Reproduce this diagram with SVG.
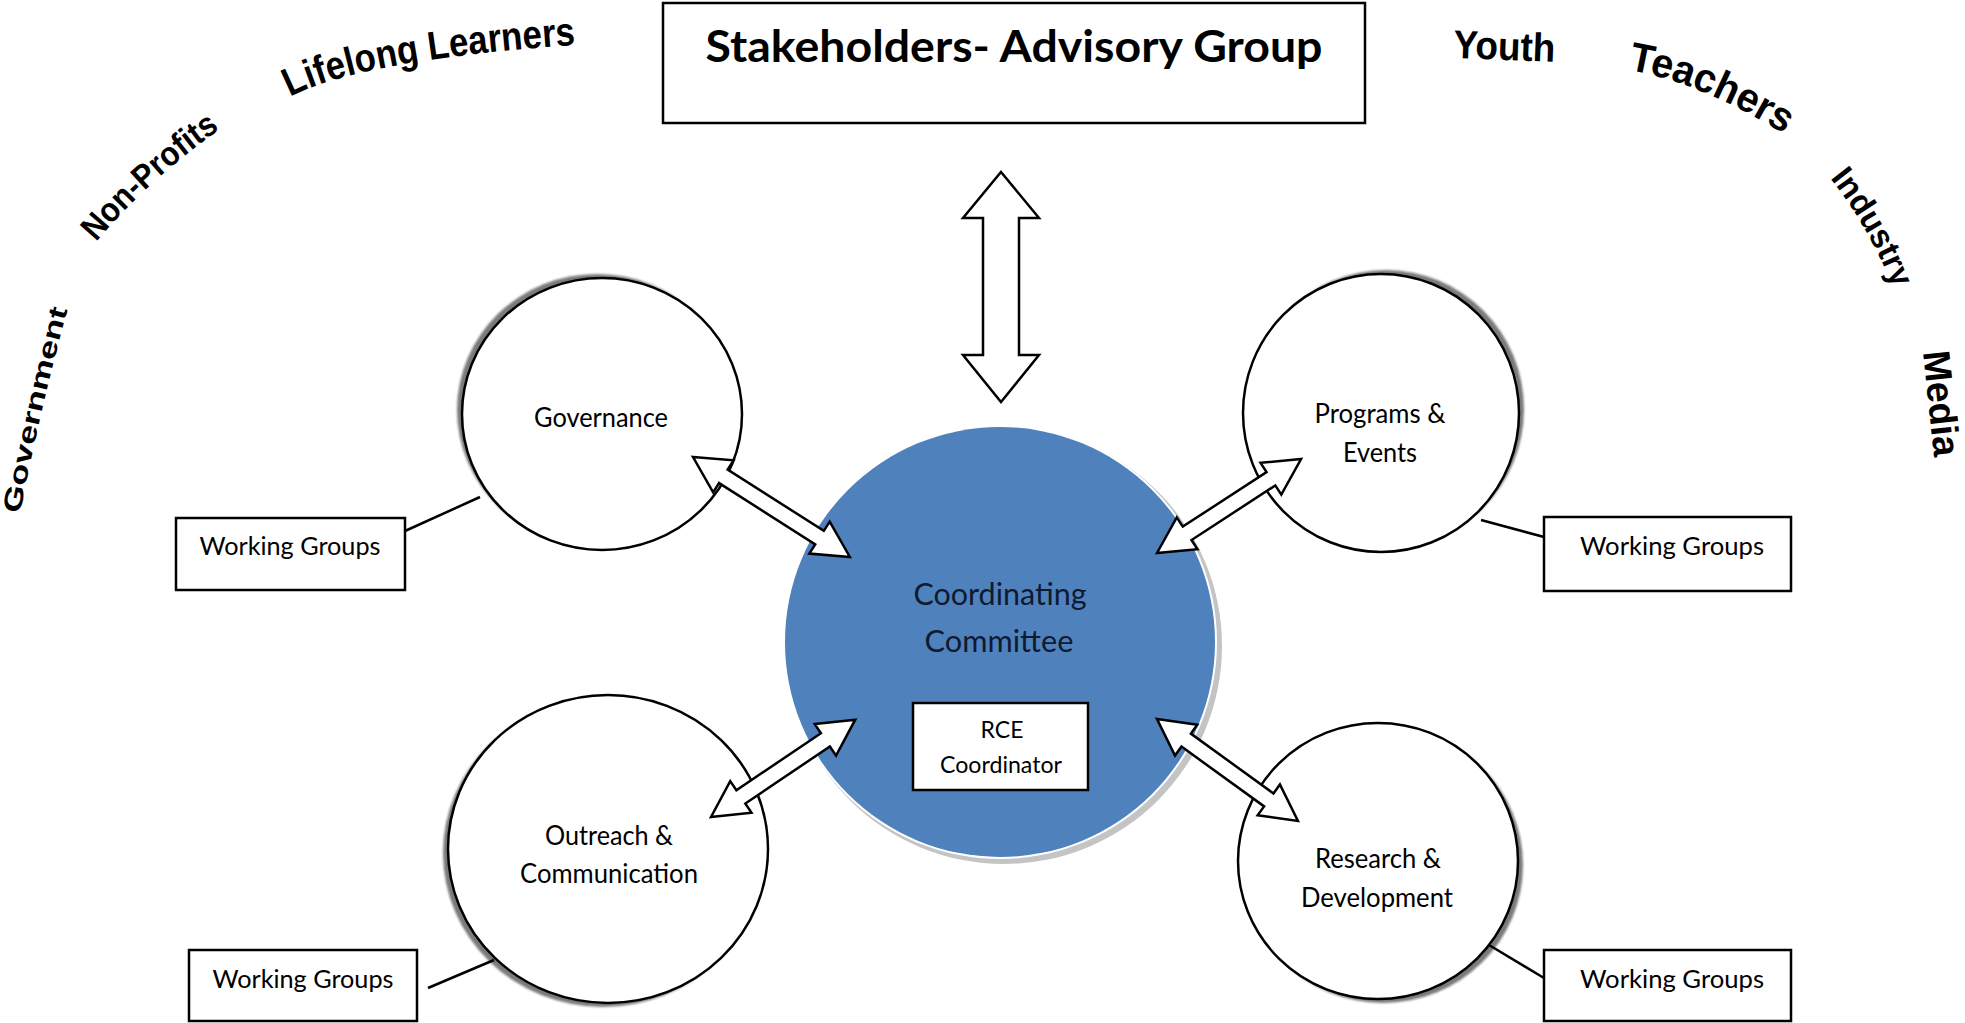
<svg xmlns="http://www.w3.org/2000/svg" width="1965" height="1023" viewBox="0 0 1965 1023">
<style>
.node{fill:#fff;stroke:#000;stroke-width:2.5}
.shadow{fill:#7a7a7a;filter:url(#blur)}
.box{fill:#fff;stroke:#000;stroke-width:2.5}
.lbl{font-family:Lato,"Open Sans",sans-serif;font-size:26px;fill:#000;text-anchor:middle}
.title{font-size:43px;font-weight:bold}
.cc{font-size:30px;fill:#0f1a30}
.rce{font-size:23px}
.wg{font-size:25px}
.wa{font-family:"Liberation Sans",Arial,sans-serif;font-weight:bold;fill:#000}
.arrow{fill:#fff;stroke:#000;stroke-width:2.5;stroke-linejoin:miter}
.link{stroke:#000;stroke-width:2.5;fill:none}
</style>
<defs>
<filter id="blur" x="-10%" y="-10%" width="120%" height="120%"><feGaussianBlur stdDeviation="1.2"/></filter>
<path id="pLL" d="M290,97 C328,76 420,55 576,45"/>
<path id="pNP" d="M96,242 Q150,178 222,128"/>
<path id="pGov" d="M20,514 Q40,410 68,308"/>
<path id="pT" d="M1628,70 Q1700,82 1784,134"/>
<path id="pInd" d="M1830,178 Q1868,226 1893,287"/>
</defs>
<rect width="1965" height="1023" fill="#fff"/>

<g id="stakeholder-labels">
<text class="wa" font-size="26"><textPath href="#pGov" textLength="210" lengthAdjust="spacingAndGlyphs">Government</textPath></text>
<text class="wa" font-size="34"><textPath href="#pNP" textLength="168" lengthAdjust="spacingAndGlyphs">Non-Profits</textPath></text>
<text class="wa" font-size="40"><textPath href="#pLL" textLength="292" lengthAdjust="spacingAndGlyphs">Lifelong Learners</textPath></text>
<text class="wa" font-size="40" transform="translate(1453,58) rotate(2.2)" textLength="102" lengthAdjust="spacingAndGlyphs">Youth</text>
<text class="wa" font-size="41"><textPath href="#pT" textLength="170" lengthAdjust="spacingAndGlyphs">Teachers</textPath></text>
<text class="wa" font-size="33"><textPath href="#pInd" textLength="128" lengthAdjust="spacingAndGlyphs">Industry</textPath></text>
<text class="wa" font-size="38" transform="translate(1923,352) rotate(84)" textLength="106" lengthAdjust="spacingAndGlyphs">Media</text>
</g>

<g id="stakeholders">
<rect class="box" x="663" y="3" width="702" height="120" stroke-width="3"/>
<text class="lbl title" x="1014" y="62" textLength="617" lengthAdjust="spacingAndGlyphs">Stakeholders- Advisory Group</text>
</g>

<g id="coordinating">
<circle cx="1004" cy="646" r="218" fill="#c4c4c4"/>
<circle cx="1000" cy="642" r="217" fill="#fff"/>
<circle cx="1000" cy="642" r="215" fill="#4f81bd"/>
<text class="lbl cc" x="1000" y="605" textLength="173" lengthAdjust="spacingAndGlyphs">Coordinating</text>
<text class="lbl cc" x="999" y="652" textLength="149" lengthAdjust="spacingAndGlyphs">Committee</text>
</g>

<g id="rce-coordinator">
<rect class="box" x="913" y="703" width="175" height="87"/>
<text class="lbl rce" x="1002" y="738">RCE</text>
<text class="lbl rce" x="1001" y="773" textLength="122" lengthAdjust="spacingAndGlyphs">Coordinator</text>
</g>

<g id="governance">
<ellipse class="shadow" cx="597" cy="410" rx="140" ry="136"/>
<ellipse class="node" cx="602" cy="414" rx="140" ry="136"/>
<text class="lbl" x="601" y="427" textLength="134" lengthAdjust="spacingAndGlyphs">Governance</text>
</g>

<g id="programs-events">
<ellipse class="shadow" cx="1386" cy="409" rx="138" ry="139"/>
<ellipse class="node" cx="1381" cy="413" rx="138" ry="139"/>
<text class="lbl" x="1380" y="423" textLength="131" lengthAdjust="spacingAndGlyphs">Programs &amp;</text>
<text class="lbl" x="1380" y="462" textLength="74" lengthAdjust="spacingAndGlyphs">Events</text>
</g>

<g id="outreach-communication">
<ellipse class="shadow" cx="603" cy="853" rx="160" ry="154"/>
<ellipse class="node" cx="608" cy="849" rx="160" ry="154"/>
<text class="lbl" x="609" y="845" textLength="128" lengthAdjust="spacingAndGlyphs">Outreach &amp;</text>
<text class="lbl" x="609" y="883" textLength="178" lengthAdjust="spacingAndGlyphs">Communication</text>
</g>

<g id="research-development">
<ellipse class="shadow" cx="1383" cy="865" rx="140" ry="138"/>
<ellipse class="node" cx="1378" cy="861" rx="140" ry="138"/>
<text class="lbl" x="1378" y="868" textLength="126" lengthAdjust="spacingAndGlyphs">Research &amp;</text>
<text class="lbl" x="1377" y="907" textLength="152" lengthAdjust="spacingAndGlyphs">Development</text>
</g>

<g id="wg-governance">
<rect class="box" x="176" y="518" width="229" height="72"/>
<text class="lbl wg" x="290" y="555" textLength="181" lengthAdjust="spacingAndGlyphs">Working Groups</text>
</g>
<g id="wg-programs">
<rect class="box" x="1544" y="517" width="247" height="74"/>
<text class="lbl wg" x="1672" y="555" textLength="184" lengthAdjust="spacingAndGlyphs">Working Groups</text>
</g>
<g id="wg-outreach">
<rect class="box" x="189" y="950" width="228" height="71"/>
<text class="lbl wg" x="303" y="988" textLength="181" lengthAdjust="spacingAndGlyphs">Working Groups</text>
</g>
<g id="wg-research">
<rect class="box" x="1544" y="950" width="247" height="71"/>
<text class="lbl wg" x="1672" y="988" textLength="184" lengthAdjust="spacingAndGlyphs">Working Groups</text>
</g>

<g id="connectors">
<line class="link" x1="405" y1="531" x2="480" y2="497"/>
<line class="link" x1="1481" y1="520" x2="1544" y2="537"/>
<line class="link" x1="428" y1="988" x2="494" y2="960"/>
<line class="link" x1="1489" y1="945" x2="1544" y2="978"/>
<path class="arrow" d="M1001,172 L1039,218 L1019,218 L1019,355 L1039,355 L1001,402 L963,355 L983,355 L983,218 L963,218 Z"/>
<path class="arrow" transform="translate(693,457) rotate(32.5)" d="M0,0 L36,-19 L36,-8 L150,-8 L150,-19 L186,0 L150,19 L150,8 L36,8 L36,19 Z"/>
<path class="arrow" transform="translate(1157,553) rotate(-33.1)" d="M0,0 L36,-19 L36,-8 L136,-8 L136,-19 L172,0 L136,19 L136,8 L36,8 L36,19 Z"/>
<path class="arrow" transform="translate(711,817) rotate(-34)" d="M0,0 L36,-19 L36,-8 L138,-8 L138,-19 L174,0 L138,19 L138,8 L36,8 L36,19 Z"/>
<path class="arrow" transform="translate(1157,719) rotate(35.9)" d="M0,0 L36,-19 L36,-8 L138,-8 L138,-19 L174,0 L138,19 L138,8 L36,8 L36,19 Z"/>
</g>
</svg>
